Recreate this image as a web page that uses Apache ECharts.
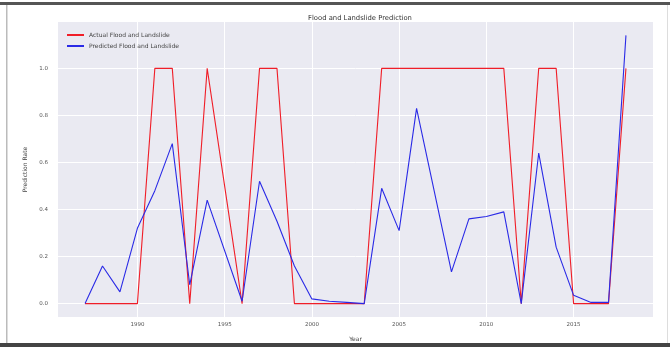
<!DOCTYPE html>
<html>
<head>
<meta charset="utf-8">
<script src="https://cdn.jsdelivr.net/npm/echarts@6/dist/echarts.min.js"></script>
<style>
  html, body { margin: 0; padding: 0; background: #ffffff; }
  #chart { width: 670px; height: 347px; }
</style>
</head>
<body>
<div id="chart"></div>
<script>
// Yearly observed outcome vs. model output
const years = [1987, 1988, 1989, 1990, 1991, 1992, 1993, 1994, 1996, 1997, 1998, 1999, 2000, 2001, 2002, 2003,
               2004, 2005, 2006, 2008, 2009, 2010, 2011, 2012, 2013, 2014, 2015, 2016, 2017, 2018];
const actual = [0, 0, 0, 0, 1, 1, 0, 1, 0, 1, 1, 0, 0, 0, 0, 0,
                1, 1, 1, 1, 1, 1, 1, 0, 1, 1, 0, 0, 0, 1];
const predicted = [0, 0.16, 0.05, 0.32, 0.48, 0.68, 0.08, 0.44, 0.01, 0.52, 0.35, 0.16, 0.02, 0.01, 0.005, 0,
                   0.49, 0.31, 0.83, 0.135, 0.36, 0.37, 0.39, 0, 0.64, 0.24, 0.035, 0.005, 0.005, 1.14];
const xTicks = [1990, 1995, 2000, 2005, 2010, 2015];
const yTicks = [0, 0.2, 0.4, 0.6, 0.8, 1.0];

const actualPts = years.map((y, i) => [y, actual[i]]);
const predictedPts = years.map((y, i) => [y, predicted[i]]);

const textColor = '#555';
const chart = echarts.init(document.getElementById('chart'), null, { renderer: 'canvas' });
chart.setOption({
  animation: false,
  backgroundColor: '#ffffff',
  title: {
    text: 'Flood and Landslide Prediction',
    left: 355, top: 10, textAlign: 'center',
    textStyle: { fontFamily: 'DejaVu Sans', fontSize: 6.8, fontWeight: 'normal', color: '#333' }
  },
  legend: {
    orient: 'vertical',
    left: 61, top: 27,
    itemWidth: 17, itemHeight: 6, itemGap: 5,
    itemStyle: { opacity: 0 },
    textStyle: { fontFamily: 'DejaVu Sans', fontSize: 6, color: '#444' },
    data: ['Actual Flood and Landslide', 'Predicted Flood and Landslide']
  },
  grid: { left: 58, right: 17, top: 22, bottom: 29, show: true, backgroundColor: '#EAEAF2', borderWidth: 0 },
  xAxis: {
    type: 'value',
    min: 1985.45, max: 2019.55,
    name: 'Year', nameLocation: 'middle', nameGap: 19,
    nameTextStyle: { fontFamily: 'DejaVu Sans', fontSize: 6, color: '#444' },
    axisLine: { show: false },
    axisTick: { show: false, customValues: xTicks },
    axisLabel: { customValues: xTicks, fontFamily: 'DejaVu Sans', fontSize: 5.5, color: textColor, margin: 5,
                 formatter: v => String(Math.round(v)) },
    splitLine: { show: true, lineStyle: { color: '#ffffff', width: 1 } }
  },
  yAxis: {
    type: 'value',
    min: -0.057, max: 1.197,
    name: 'Prediction Rate', nameLocation: 'middle', nameRotate: 90, nameGap: 25,
    nameTextStyle: { fontFamily: 'DejaVu Sans', fontSize: 6, color: '#444' },
    axisLine: { show: false },
    axisTick: { show: false, customValues: yTicks },
    axisLabel: { customValues: yTicks, fontFamily: 'DejaVu Sans', fontSize: 5.5, color: textColor, margin: 10,
                 formatter: v => v.toFixed(1) },
    splitLine: { show: true, lineStyle: { color: '#ffffff', width: 1 } }
  },
  series: [
    {
      name: 'Actual Flood and Landslide', type: 'line', data: actualPts,
      symbol: 'none', color: '#f01e28',
      lineStyle: { color: '#f01e28', width: 1.1 }
    },
    {
      name: 'Predicted Flood and Landslide', type: 'line', data: predictedPts,
      symbol: 'none', color: '#2a2ae6',
      lineStyle: { color: '#2a2ae6', width: 1.1 }
    }
  ],
  graphic: [
    { type: 'rect', shape: { x: 0, y: 2, width: 670, height: 3 }, style: { fill: '#555' }, silent: true },
    { type: 'rect', shape: { x: 0, y: 343, width: 670, height: 4 }, style: { fill: '#444' }, silent: true },
    { type: 'rect', shape: { x: 6, y: 5, width: 1.5, height: 338 }, style: { fill: '#bbb' }, silent: true },
    { type: 'rect', shape: { x: 667, y: 5, width: 1, height: 338 }, style: { fill: '#ddd' }, silent: true }
  ]
});
</script>
</body>
</html>
